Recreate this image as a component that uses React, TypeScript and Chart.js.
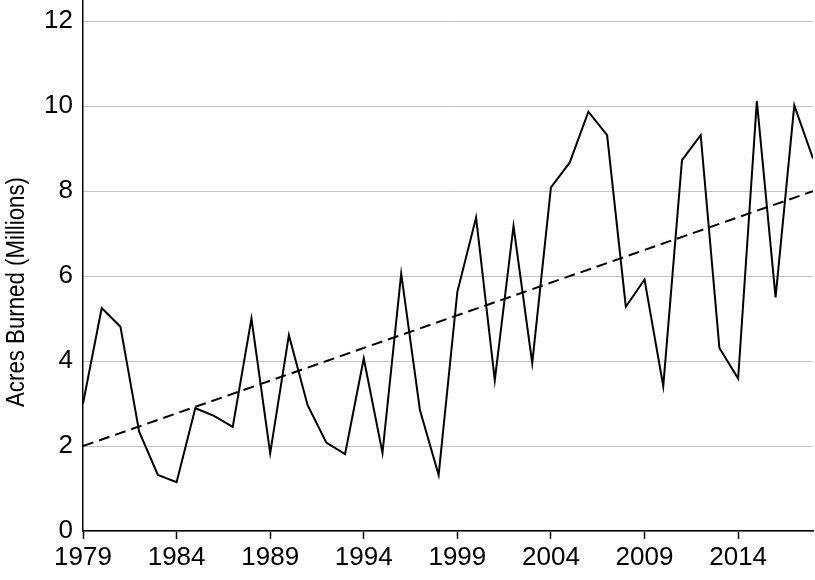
import React, { useEffect, useRef } from "react";
import { Chart, registerables } from "chart.js";

Chart.register(...registerables);

const years = [
  1979, 1980, 1981, 1982, 1983, 1984, 1985, 1986, 1987, 1988,
  1989, 1990, 1991, 1992, 1993, 1994, 1995, 1996, 1997, 1998,
  1999, 2000, 2001, 2002, 2003, 2004, 2005, 2006, 2007, 2008,
  2009, 2010, 2011, 2012, 2013, 2014, 2015, 2016, 2017, 2018,
];
const acresBurned = [
  3.0, 5.25, 4.81, 2.34, 1.32, 1.15, 2.89, 2.71, 2.45, 5.0,
  1.83, 4.61, 2.96, 2.08, 1.81, 4.06, 1.84, 6.06, 2.85, 1.32,
  5.63, 7.38, 3.55, 7.18, 3.95, 8.09, 8.67, 9.87, 9.32, 5.28,
  5.92, 3.41, 8.73, 9.32, 4.31, 3.59, 10.12, 5.5, 10.02, 8.77,
];
const trendYears = [1979, 2018];
const trendValues = [2.0, 8.0];
const xTickYears = [1979, 1984, 1989, 1994, 1999, 2004, 2009, 2014];
const yTickValues = [0, 2, 4, 6, 8, 10, 12];
const yTitle = "Acres Burned (Millions)";

const FONT = "'Liberation Sans', Arial, Helvetica, sans-serif";

const yTitlePlugin = {
  id: "yTitlePlugin",
  afterDraw(chart: any) {
    const ctx = chart.ctx;
    ctx.save();
    ctx.translate(17, 292);
    ctx.rotate(-Math.PI / 2);
    ctx.scale(0.89, 1);
    ctx.font = `25px ${FONT}`;
    ctx.fillStyle = "#000";
    ctx.textAlign = "center";
    ctx.textBaseline = "middle";
    ctx.fillText(yTitle, 0, 0);
    ctx.restore();
  },
};

export default function App() {
  const ref = useRef<HTMLCanvasElement | null>(null);

  useEffect(() => {
    document.body.style.margin = "0";
    const canvas = ref.current;
    if (!canvas) return;
    const chart = new Chart(canvas, {
      type: "line",
      data: {
        datasets: [
          {
            label: "Acres burned",
            data: years.map((y, i) => ({ x: y, y: acresBurned[i] })),
            borderColor: "#000",
            borderWidth: 2,
            pointRadius: 0,
            tension: 0,
            fill: false,
          },
          {
            label: "Trend",
            data: trendYears.map((y, i) => ({ x: y, y: trendValues[i] })),
            borderColor: "#000",
            borderWidth: 2,
            borderDash: [11, 6],
            pointRadius: 0,
            fill: false,
          },
        ],
      },
      options: {
        responsive: false,
        animation: false,
        layout: { padding: { top: 0, right: 2, left: 0, bottom: 0 } },
        plugins: { legend: { display: false }, tooltip: { enabled: false } },
        scales: {
          x: {
            type: "linear",
            min: years[0],
            max: years[years.length - 1],
            afterBuildTicks: (s: any) => {
              s.ticks = xTickYears.map((v) => ({ value: v }));
            },
            afterFit: (s: any) => {
              s.height = 49;
              s.paddingLeft = 0;
              s.paddingRight = 0;
            },
            ticks: {
              autoSkip: false,
              maxRotation: 0,
              color: "#000",
              padding: 3,
              font: { family: FONT, size: 26 },
              callback: (v: any) => String(v),
            },
            grid: {
              drawOnChartArea: false,
              drawTicks: true,
              tickLength: 8,
              tickColor: "#000",
              tickWidth: 1.5,
            },
            border: { color: "#000", width: 1.5 },
          },
          y: {
            type: "linear",
            min: 0,
            max: 12.5,
            afterBuildTicks: (s: any) => {
              s.ticks = yTickValues.map((v) => ({ value: v }));
            },
            afterFit: (s: any) => {
              s.width = 83;
              s.paddingTop = 0;
              s.paddingBottom = 0;
            },
            ticks: {
              color: "#000",
              padding: 10,
              font: { family: FONT, size: 26 },
              callback: (v: any) => String(v),
            },
            grid: { color: "#c4c4c4", lineWidth: 1, drawTicks: false },
            border: { color: "#000", width: 1.5 },
          },
        },
      },
      plugins: [yTitlePlugin],
    });
    return () => chart.destroy();
  }, []);

  return (
    <div style={{ position: "absolute", left: 0, top: 0, width: 815, height: 580 }}>
      <canvas ref={ref} width={815} height={580} />
    </div>
  );
}
